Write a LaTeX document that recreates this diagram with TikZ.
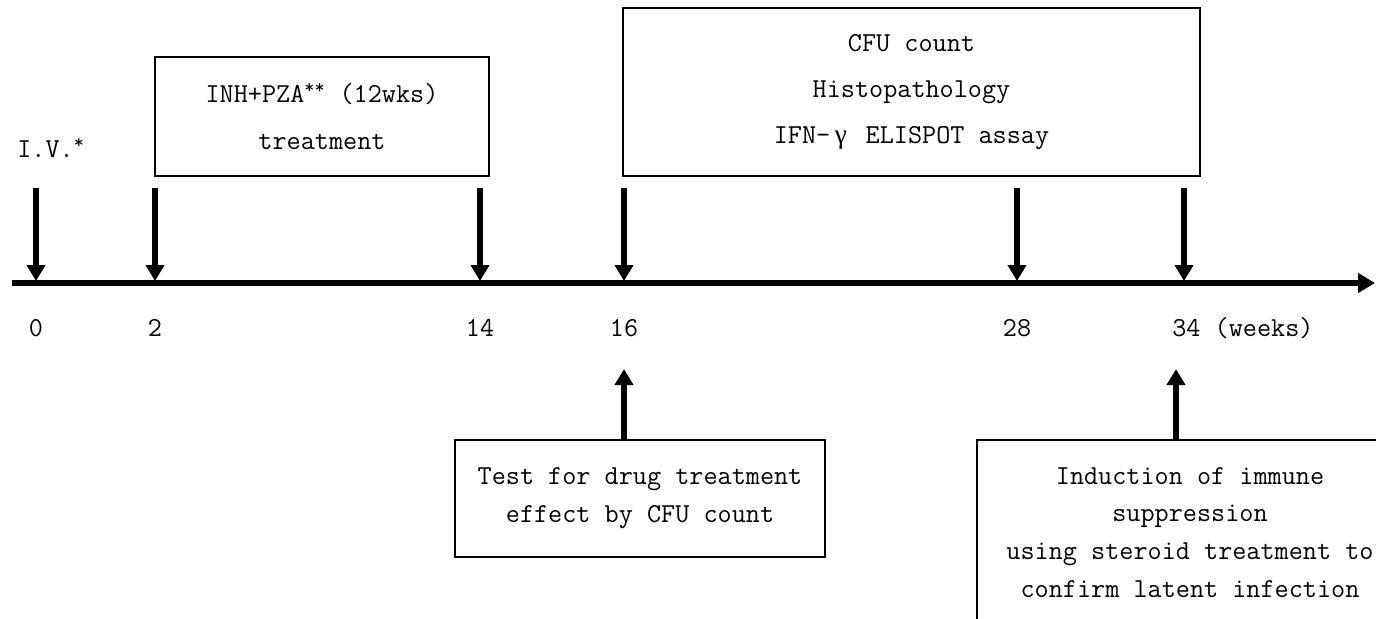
\documentclass[tikz,border=0pt]{standalone}
\usepackage{fontspec}
\newfontfamily\grkfont{Liberation Serif}
\usetikzlibrary{arrows.meta}
\tikzset{
  box/.style={draw,line width=0.3mm,rectangle,align=center,inner sep=0pt,
    font=\ttfamily\fontsize{15.6}{26.4}\selectfont},
  tightbox/.style={box,font=\ttfamily\fontsize{15.6}{21.5}\selectfont},
  lbl/.style={font=\ttfamily\fontsize{15.6}{18}\selectfont,inner sep=0pt},
  axis/.style={line width=1.2mm,-{Triangle[length=3.4mm,width=3.8mm]}},
  pointer/.style={line width=1.1mm,-{Triangle[length=3.2mm,width=3.6mm]}}
}

\begin{document}
\begin{tikzpicture}[x=0.2mm,y=-0.2mm]
\useasboundingbox (0,0) rectangle (1376,618);
\clip (0,0) rectangle (1376,618);

% time axis
\coordinate (start) at (12,283);
\coordinate (end) at (1375,283);
\draw[axis] (start) -- (end);

% week marks with arrows from above
\foreach \x/\w in {36/0,155/2,480/14,624/16,1017/28,1184/34}{
  \coordinate (t\w) at (\x,188);
  \coordinate (a\w) at (\x,281);
  \draw[pointer] (t\w) -- (a\w);
}
\foreach \x/\w in {36/0,155/2,480/14,624/16,1017/28}
  \node[lbl] (n\w) at (\x,328) {\w};
\node[lbl,anchor=west] (n34) at (1172,328) {34 (weeks)};

\node[lbl,anchor=west] (iv) at (17,148) {I.V.\textsuperscript{*}};

% treatment and readout boxes
\node[box,minimum width=66.8mm,minimum height=23.8mm] (drug) at (322,116.5)
  {INH+PZA\textsuperscript{**} (12wks)\\treatment};
\node[box,minimum width=115.4mm,minimum height=33.6mm] (read) at (911.5,92)
  {CFU count\\Histopathology\\IFN-\,{\grkfont γ}\, ELISPOT assay};

\node[tightbox,minimum width=74mm,minimum height=23.4mm] (test) at (640,498.5)
  {Test for drug treatment\\effect by CFU count};
\node[tightbox,minimum width=85.2mm,minimum height=37mm] (steroid) at (1190,532.5)
  {Induction of immune\\suppression \\using steroid treatment to\\confirm latent infection};

\coordinate (u16) at (624,369);
\coordinate (u34) at (1176,369);
\draw[pointer] (test.north -| u16) -- (u16);
\draw[pointer] (steroid.north -| u34) -- (u34);

\end{tikzpicture}
\end{document}
